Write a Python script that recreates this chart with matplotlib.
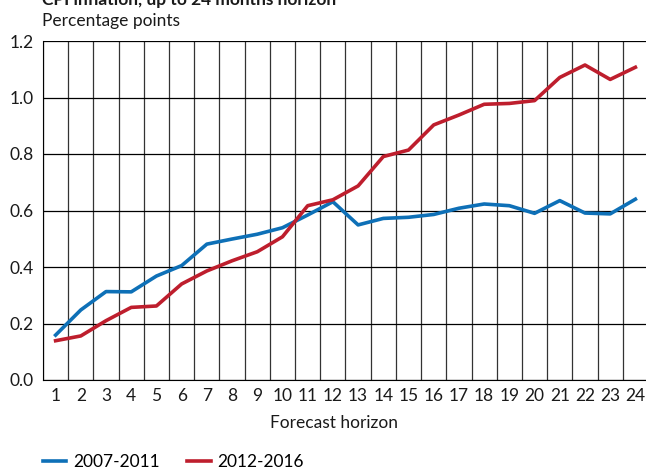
import matplotlib.pyplot as plt

horizon = list(range(1, 25))
tick_labels = [str(h) for h in horizon]

# 2007-2011
s_2007_2011 = [0.159, 0.248, 0.313, 0.312, 0.368, 0.405, 0.481, 0.499, 0.516, 0.539, 0.584, 0.631,
               0.549, 0.572, 0.576, 0.586, 0.608, 0.623, 0.617, 0.590, 0.635, 0.591, 0.588, 0.640]
# 2012-2016
s_2012_2016 = [0.139, 0.156, 0.210, 0.257, 0.262, 0.340, 0.386, 0.422, 0.454, 0.507, 0.617, 0.638,
               0.687, 0.791, 0.814, 0.903, 0.938, 0.976, 0.979, 0.989, 1.071, 1.115, 1.064, 1.107]

plt.rcParams['font.family'] = ['Lato', 'DejaVu Sans']

blue = '#0e70b7'
red = '#be1e2d'
txt = '#1a1a1a'
fs = 12.5

fig = plt.figure(figsize=(6.46, 4.70), dpi=100)
ax = fig.add_axes([43/646, 90/470, 605/646, 339/470])

ax.plot(horizon, s_2007_2011, color=blue, lw=2.6, label='2007-2011')
ax.plot(horizon, s_2012_2016, color=red, lw=2.6, label='2012-2016')

ax.set_xlim(0.5, 24.5)
ax.set_ylim(0, 1.2)
ax.set_yticks([0, 0.2, 0.4, 0.6, 0.8, 1.0, 1.2])
ax.set_yticklabels(['0.0', '0.2', '0.4', '0.6', '0.8', '1.0', '1.2'])
ax.set_xticks(horizon)
ax.set_xticklabels(tick_labels)
ax.set_xticks([h + 0.5 for h in range(0, 24)], minor=True)
ax.tick_params(axis='both', which='major', length=0, labelsize=fs, colors=txt)
ax.tick_params(axis='x', which='major', pad=6)
ax.tick_params(axis='y', which='major', pad=7)
ax.tick_params(axis='x', which='minor', length=0)
ax.grid(axis='y', which='major', color='black', lw=0.9)
ax.grid(axis='x', which='minor', color='#333333', lw=0.9)
ax.set_axisbelow(True)
for side in ['top', 'right']:
    ax.spines[side].set_visible(False)
ax.spines['left'].set_color('black')
ax.spines['bottom'].set_color('black')

fig.text(334/646, 1 - 423/470, 'Forecast horizon', ha='center', va='center', fontsize=fs, color=txt)
fig.text(42/646, 1 - 26/470, 'Percentage points', ha='left', va='baseline', fontsize=fs, color=txt)
fig.text(42/646, 1 - 5/470, 'CPI inflation, up to 24 months horizon', ha='left', va='baseline',
         fontsize=fs, fontweight='bold', color=txt)

fig.legend(loc='center left', bbox_to_anchor=(43/646, 1 - 462/470), ncol=2, frameon=False, fontsize=fs,
           handlelength=1.33, columnspacing=1.6, handletextpad=0.4, borderaxespad=0, borderpad=0)

fig.savefig('out.png', dpi=100)
